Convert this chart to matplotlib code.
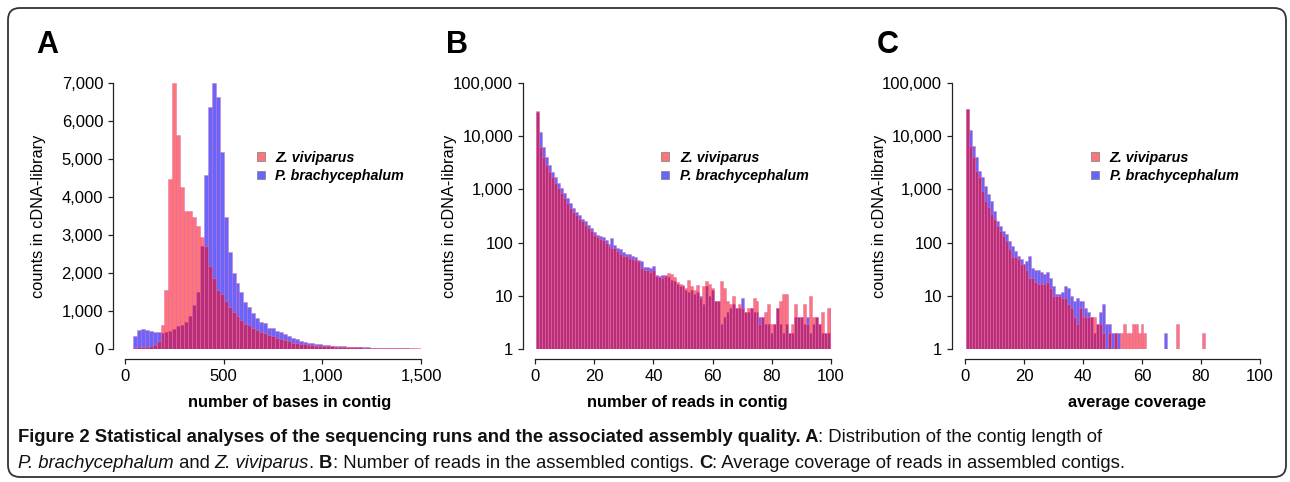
import numpy as np
import matplotlib
matplotlib.use('Agg')
import matplotlib.pyplot as plt
from matplotlib.patches import Patch, FancyBboxPatch
from matplotlib.transforms import IdentityTransform
from matplotlib.ticker import FixedLocator, FuncFormatter

plt.rcParams['font.family'] = ['Liberation Sans', 'DejaVu Sans']

# ---- data -----------------------------------------------------------------
series_names = ['Z. viviparus', 'P. brachycephalum']

# A: contig length histogram, 20-base bins starting at 40
len_bin_start = 40
len_bin_width = 20
len_zv = [30, 40, 50, 55, 70, 110, 200, 630, 1560, 4470, 7000, 5630, 4250, 3620,
          3620, 3470, 3250, 2950, 2710, 2180, 1860, 1560, 1460, 1270, 1100, 970,
          860, 770, 660, 620, 540, 500, 440, 410, 380, 350, 300, 270, 230, 200,
          170, 150, 135, 125, 115, 105, 92, 85, 78, 72, 66, 62, 58, 54, 50, 46,
          43, 40, 37, 34, 32, 30, 28, 26, 24, 22, 20, 19, 18, 17, 16, 15, 14]
len_pb = [350, 500, 520, 490, 470, 460, 450, 430, 440, 480, 520, 600, 640, 710,
          880, 1150, 1500, 2700, 4580, 6370, 7000, 6620, 5190, 3480, 2560, 2000,
          1730, 1510, 1250, 1110, 940, 810, 700, 690, 560, 540, 480, 440, 390,
          350, 300, 260, 220, 185, 167, 149, 132, 123, 105, 96, 88, 80, 75, 70,
          62, 58, 52, 48, 44, 40, 36, 33, 30, 27, 25, 22, 20, 18, 16, 15, 13, 12, 11]

# B: number of reads per contig (1..100)
reads_zv = [30000, 6300, 4100, 2900, 2150, 1700, 1300, 1050, 850, 680, 550, 450,
            370, 330, 275, 250, 210, 185, 165, 140, 125, 115, 110, 100, 85, 80,
            80, 70, 62, 56, 55, 52, 50, 48, 45, 33, 30, 30, 28, 30, 24, 23, 22,
            25, 27, 26, 23, 18, 17, 16, 14, 20, 15, 13, 16, 9, 15, 19, 17, 14, 8,
            8, 19, 14, 8, 7, 10, 6, 7, 6, 5, 6, 6, 9, 8, 3, 4, 5, 7, 3, 3, 6, 8,
            11, 11, 2, 3, 7, 4, 4, 7, 3, 10, 4, 4, 3, 5, 2, 6, 6]
reads_pb = [29000, 11800, 6300, 4100, 2900, 2150, 1700, 1300, 1050, 850, 680, 550,
            450, 370, 330, 275, 260, 215, 185, 160, 140, 135, 130, 112, 95, 120,
            92, 80, 76, 68, 62, 60, 55, 54, 48, 46, 35, 35, 34, 36, 25, 24, 25,
            24, 23, 20, 19, 17, 15, 15, 13, 12, 13, 11, 12, 10, 7, 15, 10, 13, 8,
            8, 3, 4, 5, 6, 7, 6, 6, 9, 5, 5, 6, 5, 5, 4, 4, 3, 3, 2, 3, 6, 3, 2,
            3, 2, 2, 4, 4, 4, 3, 4, 2, 3, 4, 3, 2, 2, 2, 2]

# C: average coverage (1..100)
cov_zv = [33000, 6600, 4000, 2240, 1700, 950, 610, 460, 345, 277, 208, 167, 135,
          109, 76, 53, 53, 49, 40, 40, 30, 22, 22, 18, 17, 17, 17, 18, 14, 10, 10,
          10, 9, 9, 7, 6, 4, 3, 6, 4, 4, 4, 4, 4, 3, 3, 2, 1, 2, 1, 2, 0, 2, 3, 2,
          2, 3, 3, 2, 3, 2, 1, 1, 1, 0, 1, 1, 1, 1, 0, 0, 3, 0, 0, 0, 1, 1, 1, 1,
          0, 2, 0, 0, 1, 1, 0, 1, 0, 0, 0, 1, 0, 1, 0, 0, 0, 1, 1, 1, 1]
cov_pb = [32000, 13100, 6600, 4000, 2240, 1700, 1170, 820, 610, 400, 260, 208, 167,
          145, 109, 88, 70, 57, 49, 40, 46, 57, 34, 30, 30, 28, 26, 28, 22, 15, 11,
          11, 12, 15, 14, 10, 8, 9, 8, 8, 6, 5, 4, 2, 3, 5, 7, 3, 3, 2, 2, 2, 1, 0,
          0, 0, 0, 0, 0, 0, 0, 1, 1, 1, 1, 1, 0, 2, 1, 1, 0, 0, 0, 0, 0, 0, 0, 0,
          0, 0, 0, 0, 0, 0, 0, 1, 1, 1, 0, 0, 0, 0, 0, 0, 0, 0, 0, 0, 0, 0]

x_labels = ['number of bases in contig', 'number of reads in contig', 'average coverage']
panel_letters = ['A', 'B', 'C']

# ---- styles ---------------------------------------------------------------
RED = (1.0, 0.0, 0.06, 0.55)
BLUE = (0.0, 0.0, 1.0, 0.6)
EDGE = (0.85, 0.45, 0.7, 0.55)
W, H = 1290, 482
PX = 72 / 100  # points per pixel


def add_axes_px(left, right, bottom, top):
    return fig.add_axes([left / W, (H - bottom) / H, (right - left) / W, (bottom - top) / H])


def style(ax, left_off, ylabel_x):
    for s in ['top', 'right']:
        ax.spines[s].set_visible(False)
    for s in ['left', 'bottom']:
        ax.spines[s].set_linewidth(0.9)
        ax.spines[s].set_color('#222222')
    ax.spines['left'].set_position(('outward', left_off * PX))
    ax.spines['bottom'].set_position(('outward', 10 * PX))
    ax.tick_params(length=5 * PX, width=0.9, labelsize=12, pad=3.5, color='#222222')
    ax.tick_params(which='minor', length=0)
    ax.set_ylabel('counts in cDNA-library', fontsize=11.8)
    ax.yaxis.set_label_coords(ylabel_x, 0.5)
    ax.set_facecolor('none')
    ax.legend(handles=[Patch(facecolor=RED, edgecolor='#888888', lw=0.6, label=series_names[0]),
                       Patch(facecolor=BLUE, edgecolor='#888888', lw=0.6, label=series_names[1])],
              loc='upper left', bbox_to_anchor=(ax_legx[ax], 0.745), frameon=False,
              prop=dict(weight='bold', style='italic', size=10.3),
              handlelength=0.55, handleheight=0.55, handletextpad=0.75,
              labelspacing=0.3, borderpad=0, borderaxespad=0)


comma = FuncFormatter(lambda v, p: f'{int(round(v)):,}')

fig = plt.figure(figsize=(W / 100, H / 100), dpi=100)
fig.patch.set_facecolor('white')

axA = add_axes_px(125, 421, 349, 83)
axB = add_axes_px(535, 831, 349, 83)
axC = add_axes_px(965, 1260, 349, 83)
ax_legx = {axA: 0.445, axB: 0.427, axC: 0.427}

# A
lefts = len_bin_start + len_bin_width * np.arange(len(len_zv))
axA.bar(lefts, len_pb, width=len_bin_width, align='edge', color=BLUE, edgecolor=EDGE, lw=0.6)
axA.bar(lefts, len_zv, width=len_bin_width, align='edge', color=RED, edgecolor=EDGE, lw=0.6)
axA.set_xlim(0, 1500)
axA.set_ylim(0, 7000)
axA.xaxis.set_major_locator(FixedLocator([0, 500, 1000, 1500]))
axA.yaxis.set_major_locator(FixedLocator(range(0, 7001, 1000)))
axA.xaxis.set_major_formatter(comma)
axA.yaxis.set_major_formatter(comma)
axA.spines['left'].set_bounds(0, 7000)
axA.spines['bottom'].set_bounds(0, 1500)
style(axA, 12, -0.267)

# B and C (log scale)
for ax, zv, pb, lo in [(axB, reads_zv, reads_pb, 12), (axC, cov_zv, cov_pb, 13)]:
    xs = np.arange(1, len(zv) + 1)
    ax.set_yscale('log')
    ax.bar(xs, pb, width=1.0, color=BLUE, edgecolor=EDGE, lw=0.6)
    ax.bar(xs, zv, width=1.0, color=RED, edgecolor=EDGE, lw=0.6)
    ax.set_xlim(0, 100)
    ax.set_ylim(1, 1e5)
    ax.xaxis.set_major_locator(FixedLocator(range(0, 101, 20)))
    ax.yaxis.set_major_locator(FixedLocator([1, 10, 100, 1000, 10000, 100000]))
    ax.yaxis.set_major_formatter(comma)
    ax.yaxis.set_minor_locator(FixedLocator([]))
    ax.spines['left'].set_bounds(1, 1e5)
    ax.spines['bottom'].set_bounds(0, 100)
    style(ax, lo, -0.264)

# x labels and panel letters (pixel positions)
ident = IdentityTransform()
for (xc, lab) in zip([290, 687, 1137], x_labels):
    fig.text(xc, H - 402, lab, transform=ident, ha='center', va='center',
             fontsize=11.8, fontweight='bold')
for (xl, let) in zip([36, 446, 877], panel_letters):
    fig.text(xl, H - 53, let, transform=ident, ha='left', va='baseline',
             fontsize=22, fontweight='bold')

# rounded frame
frame = FancyBboxPatch((8, H - 477), 1278, 469, boxstyle='round,pad=0,rounding_size=12',
                       transform=ident, fill=False, edgecolor='#333333', lw=1.3)
fig.add_artist(frame)

# caption, assembled piece by piece
cap_font = ['Liberation Sans', 'DejaVu Sans']
renderer = fig.canvas.get_renderer()


def rich(x, y, parts, size):
    for s, wt, st in parts:
        fig.text(x, y, s, transform=ident, ha='left', va='baseline', fontsize=size,
                 fontweight=wt, fontstyle=st, family=cap_font, color='#111111')
        probe = fig.text(0, 0, s + '|', transform=ident, fontsize=size, fontweight=wt,
                         fontstyle=st, family=cap_font)
        bar = fig.text(0, 0, '|', transform=ident, fontsize=size, fontweight=wt,
                       fontstyle=st, family=cap_font)
        x += probe.get_window_extent(renderer).width - bar.get_window_extent(renderer).width
        probe.remove()
        bar.remove()


rich(18, H - 442, [('Figure 2 Statistical analyses of the sequencing runs and the associated assembly quality. A',
                    'bold', 'normal'),
                   (': Distribution of the contig length of', 'normal', 'normal')], 13.3)
rich(18, H - 468, [('P. brachycephalum', 'normal', 'italic'), (' and ', 'normal', 'normal'),
                   ('Z. viviparus', 'normal', 'italic'), ('. ', 'normal', 'normal'),
                   ('B', 'bold', 'normal'), (': Number of reads in the assembled contigs. ', 'normal', 'normal'),
                   ('C', 'bold', 'normal'), (': Average coverage of reads in assembled contigs.', 'normal', 'normal')],
     13.3)

fig.savefig('out.png', dpi=100)
